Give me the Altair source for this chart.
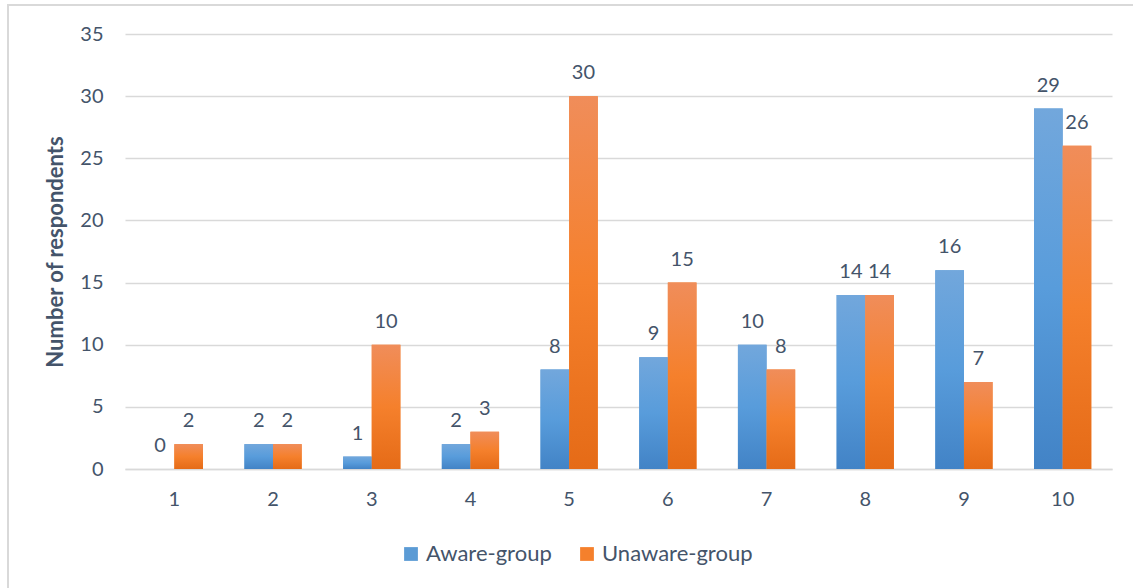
import altair as alt
import pandas as pd

categories = [1, 2, 3, 4, 5, 6, 7, 8, 9, 10]
aware = [0, 2, 1, 2, 8, 9, 10, 14, 16, 29]
unaware = [2, 2, 10, 3, 30, 15, 8, 14, 7, 26]
groups = ["Aware-group", "Unaware-group"]
y_ticks = [0, 5, 10, 15, 20, 25, 30, 35]

rows = []
for c, a, u in zip(categories, aware, unaware):
    rows.append({"cat": c, "group": groups[0], "value": a})
    rows.append({"cat": c, "group": groups[1], "value": u})
df = pd.DataFrame(rows)

TXT = "#44546a"
FONT = "Lato"
GRID = "#d9d9d9"

blue_grad = alt.LinearGradient(
    gradient="linear", x1=0, y1=0, x2=0, y2=1,
    stops=[alt.GradientStop(offset=0, color="#72a7dc"),
           alt.GradientStop(offset=0.5, color="#589cdb"),
           alt.GradientStop(offset=1, color="#4283c6")])
orange_grad = alt.LinearGradient(
    gradient="linear", x1=0, y1=0, x2=0, y2=1,
    stops=[alt.GradientStop(offset=0, color="#f08d5a"),
           alt.GradientStop(offset=0.5, color="#f5802c"),
           alt.GradientStop(offset=1, color="#e56b17")])

x_enc = alt.X("cat:O", title=None,
              scale=alt.Scale(paddingInner=0.42, paddingOuter=0.21),
              axis=alt.Axis(labelAngle=0, labelFont=FONT, labelFontSize=20,
                            labelColor=TXT, labelPadding=20, ticks=False,
                            domainColor=GRID, domainWidth=1.5, grid=False))
xoff = alt.XOffset("group:N", sort=groups)
y_enc = alt.Y("value:Q", title="Number of respondents",
              scale=alt.Scale(domain=[0, 35], nice=False),
              axis=alt.Axis(values=y_ticks, labelFont=FONT, labelFontSize=20,
                            labelColor=TXT, labelPadding=22, ticks=False,
                            domain=False, gridColor=GRID, gridWidth=1.4,
                            titleFont=FONT, titleFontSize=22, titleFontWeight="bold",
                            titleColor=TXT, titlePadding=12))

base = alt.Chart(df).encode(x=x_enc, xOffset=xoff, y=y_enc)

solid = base.mark_bar().encode(
    color=alt.Color("group:N", sort=groups,
                    scale=alt.Scale(domain=groups, range=["#5b9bd5", "#f5802c"]),
                    legend=alt.Legend(title=None, orient="none", direction="horizontal",
                                      legendX=275, legendY=509,
                                      symbolType="square", symbolSize=190,
                                      symbolStrokeWidth=0,
                                      labelFont=FONT, labelFontSize=22, labelColor=TXT,
                                      columnPadding=24, labelOffset=4))
)

bars_a = base.mark_bar(color=blue_grad).transform_filter(alt.datum.group == groups[0])
bars_u = base.mark_bar(color=orange_grad).transform_filter(alt.datum.group == groups[1])

labels = base.mark_text(baseline="bottom", dy=-13, font=FONT, fontSize=20, color=TXT).encode(
    text=alt.Text("value:Q"))

border = alt.Chart(pd.DataFrame({"k": [0]})).mark_rect(
    fill=None, stroke=GRID, strokeWidth=2).encode(
    x=alt.value(8 - 125), x2=alt.value(1160 - 125),
    y=alt.value(5 - 34), y2=alt.value(620 - 34))

chart = alt.layer(border, solid, bars_a, bars_u, labels).properties(
    width=987, height=435,
    autosize=alt.AutoSizeParams(type="none"),
    padding={"left": 125, "top": 34, "right": 21, "bottom": 119},
    background="white",
).configure_view(stroke=None)

chart.save("out.html", embed_options={"renderer": "svg", "actions": False})
